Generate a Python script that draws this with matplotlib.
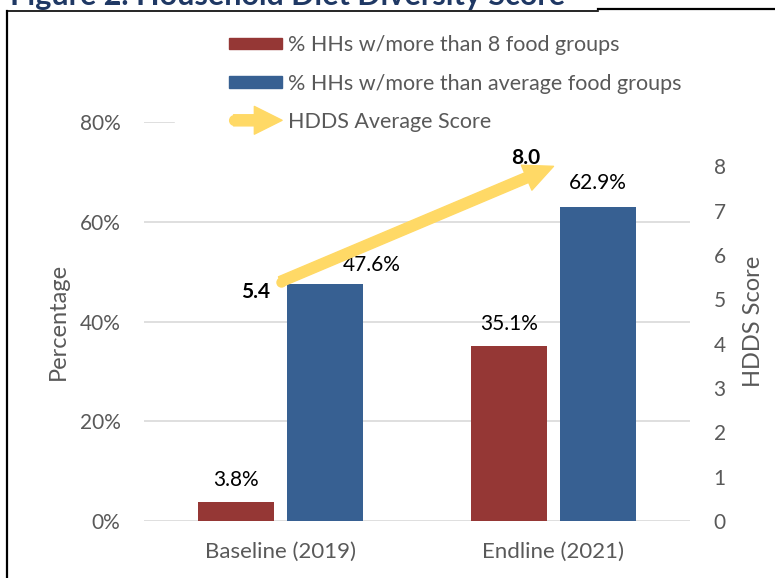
import matplotlib
matplotlib.use("Agg")
import matplotlib.pyplot as plt
from matplotlib.patches import Patch, FancyArrowPatch, Rectangle
from matplotlib.legend_handler import HandlerPatch
from matplotlib.lines import Line2D
from matplotlib.ticker import PercentFormatter
import numpy as np

# Data
categories = ["Baseline (2019)", "Endline (2021)"]
pct_more_than_8 = [0.038, 0.351]
pct_more_than_avg = [0.476, 0.629]
hdds_avg = [5.4, 8.0]

RED = "#953735"
BLUE = "#376092"
YELLOW = "#FFD966"
GRAY = "#595959"
GRID = "#D9D9D9"
NAVY = "#1F3864"

plt.rcParams["font.family"] = ["Lato", "DejaVu Sans"]

W, H = 775, 578
fig = plt.figure(figsize=(W / 100, H / 100), dpi=100)
ax = fig.add_axes([144 / W, 1 - 521 / H, 546 / W, 399 / H])
ax2 = ax.twinx()

x = np.arange(len(categories))
bw, off = 0.275, 0.163
bars1 = ax.bar(x - off, pct_more_than_8, bw, color=RED, zorder=3)
bars2 = ax.bar(x + off, pct_more_than_avg, bw, color=BLUE, zorder=3)

# label offsets in pixels (the 47.6% label sits right of its bar, clear of the arrow)
label_offsets = [[(0, 12), (0, 12)], [(47, 9), (0, 14)]]
for bars, vals, offs in zip([bars1, bars2], [pct_more_than_8, pct_more_than_avg], label_offsets):
    for b, v, o in zip(bars, vals, offs):
        ax.annotate(f"{v * 100:.1f}%", (b.get_x() + b.get_width() / 2, v),
                    xytext=o, textcoords="offset pixels",
                    ha="center", va="bottom", fontsize=15, color="black")

ax.set_xlim(-0.5, 1.5)
ax.set_ylim(0, 0.8)
ax.set_yticks([0, 0.2, 0.4, 0.6, 0.8])
ax.yaxis.set_major_formatter(PercentFormatter(1.0, decimals=0))
ax.set_xticks(x)
ax.set_xticklabels(categories)
ax.grid(axis="y", color=GRID, lw=1.2)
ax.set_axisbelow(True)
ax.tick_params(axis="y", length=0, pad=17, labelsize=15, labelcolor=GRAY)
ax.tick_params(axis="x", length=0, pad=15, labelsize=16, labelcolor=GRAY)
ax.set_ylabel("Percentage", fontsize=17, color=GRAY)
ax.yaxis.set_label_coords(-0.137, 0.5)

ax2.set_ylim(0, 9)
ax2.set_yticks(range(0, 9))
ax2.tick_params(axis="y", length=0, pad=17, labelsize=15, labelcolor=GRAY)
ax2.set_ylabel("HDDS Score", fontsize=17, color=GRAY)
ax2.yaxis.set_label_coords(1.097, 0.5)

for a in (ax, ax2):
    for s in a.spines.values():
        s.set_visible(False)

# HDDS arrow
arrow_style = "simple,head_width=19.5,head_length=21,tail_width=7.5"
ax2.add_patch(FancyArrowPatch((x[0], hdds_avg[0]), (x[1], hdds_avg[1]),
                              arrowstyle=arrow_style, mutation_scale=1,
                              color=YELLOW, shrinkA=0, shrinkB=0, zorder=5))
ax2.plot(x[0], hdds_avg[0], "o", ms=7.5, mew=0, color=YELLOW, zorder=5)
ax2.annotate(f"{hdds_avg[0]:.1f}", (x[0], hdds_avg[0]), xytext=(-25, -10),
             textcoords="offset pixels", ha="center", va="center",
             fontsize=15, fontweight="bold", color="black")
ax2.annotate(f"{hdds_avg[1]:.1f}", (x[1], hdds_avg[1]), xytext=(-28, 8),
             textcoords="offset pixels", ha="center", va="center",
             fontsize=15, fontweight="bold", color="black")


class ArrowHandler(HandlerPatch):
    def create_artists(self, legend, orig_handle, xdescent, ydescent,
                       width, height, fontsize, trans):
        y = height / 2 - ydescent
        x0 = -xdescent + 3
        x1 = -xdescent + width
        arr = FancyArrowPatch((x0, y), (x1, y),
                              arrowstyle="simple,head_width=20,head_length=20,tail_width=8",
                              mutation_scale=1, color=YELLOW, shrinkA=0, shrinkB=0,
                              transform=trans)
        cap = Line2D([x0], [y], marker="o", ms=8, mew=0, color=YELLOW, transform=trans)
        return [arr, cap]


# white block hiding the top gridline behind the legend
fig.add_artist(Rectangle((175 / W, 1 - 132 / H), 520 / W, 20 / H,
                         transform=fig.transFigure, color="white", zorder=4))

arrow_handle = Patch(color=YELLOW)
handles = [Patch(color=RED), Patch(color=BLUE), arrow_handle]
labels = ["% HHs w/more than 8 food groups",
          "% HHs w/more than average food groups",
          "HDDS Average Score"]
leg = fig.legend(handles, labels, loc="upper left",
                 bbox_to_anchor=(210 / W, 1 - 16 / H), frameon=False,
                 fontsize=15.5, labelcolor=GRAY, handlelength=2.45,
                 handleheight=0.45, handletextpad=0.25, labelspacing=0.85,
                 handler_map={arrow_handle: ArrowHandler()})
leg.set_zorder(6)

# title (cut off at top, as in the source page) and frame
fig.text(10 / W, 1 - 5 / H, "Figure 2. Household Diet Diversity Score",
         fontsize=22, fontweight="bold", color=NAVY, va="baseline", ha="left")
fig.add_artist(Line2D([7 / W, 7 / W], [0, 1 - 11 / H], color="black", lw=1.6))
fig.add_artist(Line2D([7 / W, 598 / W], [1 - 11 / H, 1 - 11 / H], color="black", lw=1.2))
fig.add_artist(Line2D([598 / W, 1], [1 - 9 / H, 1 - 9 / H], color="black", lw=1.6))

fig.savefig("out.png", dpi=100)
